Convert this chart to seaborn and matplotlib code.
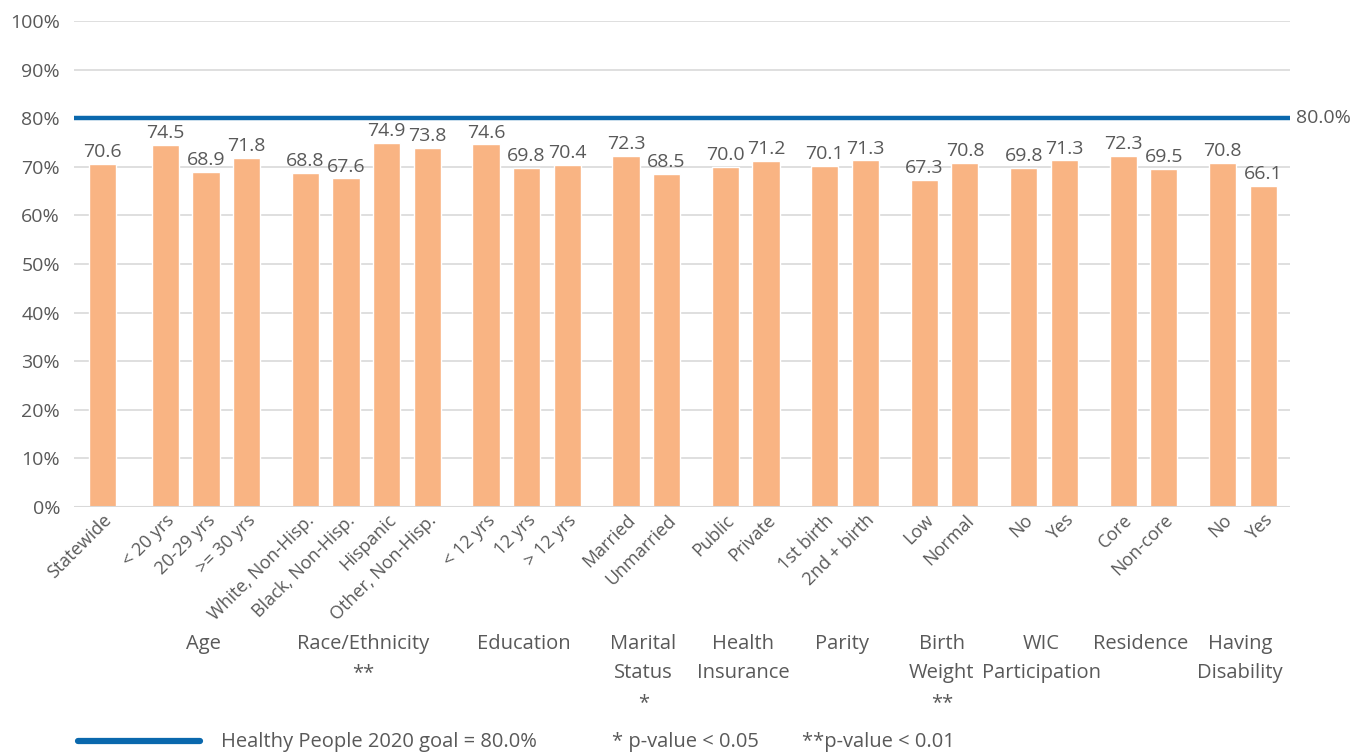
import matplotlib
matplotlib.use("Agg")
import matplotlib.pyplot as plt
import matplotlib.font_manager as fm
import seaborn as sns
import pandas as pd

# ---- data ----
categories = ["Statewide", "< 20 yrs", "20-29 yrs", ">= 30 yrs",
              "White, Non-Hisp.", "Black, Non-Hisp.", "Hispanic", "Other, Non-Hisp.",
              "< 12 yrs", "12 yrs", "> 12 yrs",
              "Married", "Unmarried", "Public", "Private",
              "1st birth", "2nd + birth", "Low", "Normal",
              "No", "Yes", "Core", "Non-core", "No", "Yes"]
values = [70.6, 74.5, 68.9, 71.8,
          68.8, 67.6, 74.9, 73.8,
          74.6, 69.8, 70.4,
          72.3, 68.5, 70.0, 71.2,
          70.1, 71.3, 67.3, 70.8,
          69.8, 71.3, 72.3, 69.5, 70.8, 66.1]
group_ids = [0, 1, 1, 1, 2, 2, 2, 2, 3, 3, 3, 4, 4, 5, 5, 6, 6, 7, 7, 8, 8, 9, 9, 10, 10]
group_labels = ["", "Age", "Race/Ethnicity\n**", "Education", "Marital\nStatus\n*",
                "Health\nInsurance", "Parity", "Birth\nWeight\n**", "WIC\nParticipation",
                "Residence", "Having\nDisability"]
goal = 80.0
y_ticks = [0, 10, 20, 30, 40, 50, 60, 70, 80, 90, 100]

# ---- style ----
avail = {f.name for f in fm.fontManager.ttflist}
fam = "Liberation Sans Narrow" if "Liberation Sans Narrow" in avail else "Open Sans"
sns.set_theme(style="white")
plt.rcParams["font.family"] = [fam, "DejaVu Sans"]
TXT = "#595959"
BAR = "#F9B483"
BLUE = "#0A68AD"

# x positions with gaps between groups
xpos = []
for i, g in enumerate(group_ids):
    x = i + 0.45 * g + (0.1 if g > 0 else 0)
    xpos.append(round(x, 3))

df = pd.DataFrame({"x": xpos, "value": values, "label": categories})

fig = plt.figure(figsize=(13.71, 7.56), dpi=100)
ax = fig.add_axes([74 / 1371, 1 - 507 / 756, (1290 - 74) / 1371, (507 - 21) / 756])

sns.barplot(data=df, x="x", y="value", native_scale=True, color=BAR,
            saturation=1, width=0.67, ax=ax, zorder=3)

ax.set_xlim(xpos[0] - 0.70, xpos[-1] + 0.66)
ax.set_ylim(0, 100)
ax.set_yticks(y_ticks)
ax.set_yticklabels([f"{t}%" for t in y_ticks], fontsize=14, color=TXT)
ax.yaxis.grid(True, color="#D9D9D9", linewidth=1.2, zorder=0)
ax.set_axisbelow(True)
for s in ax.spines.values():
    s.set_visible(False)
ax.axhline(0, color="#D9D9D9", linewidth=2.2, zorder=4)
ax.tick_params(axis="y", length=0, pad=10)
ax.tick_params(axis="x", length=0, pad=3)
ax.set_xlabel("")
ax.set_ylabel("")

ax.set_xticks(xpos)
ax.set_xticklabels(categories, rotation=45, ha="right", rotation_mode="anchor",
                   fontsize=13, color=TXT)
for lbl in ax.get_xticklabels():
    lbl.set_va("top")

# value labels
for x, v in zip(xpos, values):
    ax.text(x, v + 0.6, f"{v:.1f}", ha="center", va="bottom", fontsize=14, color=TXT)

# goal line
ax.axhline(goal, color=BLUE, linewidth=3.2, zorder=5)
ax.text(1.005, goal / 100, f"{goal:.1f}%", transform=ax.transAxes, ha="left",
        va="center", fontsize=14, color=TXT)

# group labels
for g, glab in enumerate(group_labels):
    if not glab:
        continue
    gx = [x for x, gi in zip(xpos, group_ids) if gi == g]
    cx = (min(gx) + max(gx)) / 2
    fx = fig.transFigure.inverted().transform(ax.transData.transform((cx, 0)))[0]
    fig.text(fx - 0.002, 1 - 634 / 756, glab, ha="center", va="top", fontsize=14.5,
             color=TXT, linespacing=1.62)

# legend at bottom
fig.add_artist(plt.Line2D([78 / 1371, 200 / 1371], [1 - 741 / 756, 1 - 741 / 756],
                          color=BLUE, linewidth=4.5, transform=fig.transFigure))
fig.text(221 / 1371, 1 - 742 / 756, f"Healthy People 2020 goal = {goal:.1f}%",
         ha="left", va="center", fontsize=14.5, color=TXT)
fig.text(612 / 1371, 1 - 742 / 756, "* p-value < 0.05", ha="left", va="center",
         fontsize=14.5, color=TXT)
fig.text(802 / 1371, 1 - 742 / 756, "**p-value < 0.01", ha="left", va="center",
         fontsize=14.5, color=TXT)

fig.savefig("out.png", dpi=100)
